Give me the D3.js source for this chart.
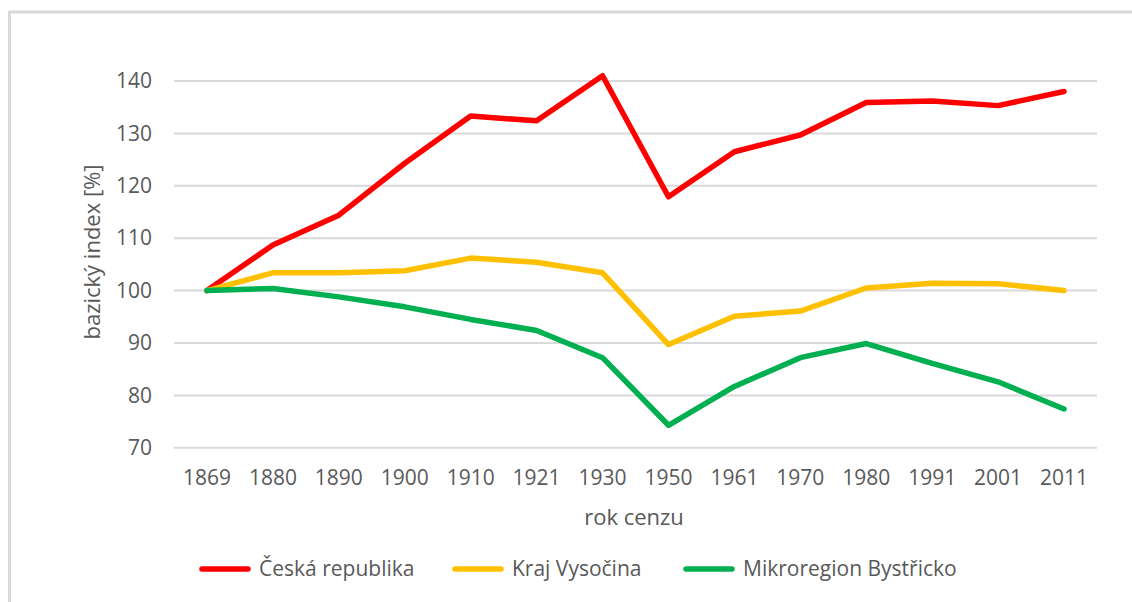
<!DOCTYPE html>
<html><head><meta charset="utf-8">
<script src="https://cdn.jsdelivr.net/npm/d3@7"></script>
<style>body{margin:0;background:#fff;} svg{display:block;} text{font-family:"Open Sans",sans-serif;fill:#595959;}</style>
</head><body>
<svg id="c" width="1132" height="602"></svg>
<script>
const years = ["1869","1880","1890","1900","1910","1921","1930","1950","1961","1970","1980","1991","2001","2011"];
const ceskaRepublika = [100,108.7,114.4,124.3,133.3,132.4,141,117.9,126.5,129.7,135.9,136.2,135.3,138.0];
const krajVysocina = [100,103.4,103.4,103.8,106.2,105.4,103.4,89.7,95.1,96.1,100.5,101.4,101.3,100.0];
const mikroregionBystricko = [100,100.4,98.8,96.9,94.5,92.4,87.2,74.3,81.7,87.2,89.9,86.1,82.6,77.4];
const yTicks = [70,80,90,100,110,120,130,140];
const seriesNames = ["Česká republika","Kraj Vysočina","Mikroregion Bystřicko"];
const seriesColors = ["#ff0000","#ffc000","#00b050"];
const yTitle = "bazický index [%]";
const xTitle = "rok cenzu";

(function(){
const series = [ceskaRepublika, krajVysocina, mikroregionBystricko];
const svg = d3.select("#c");
// frame
svg.append("rect").attr("x",9.5).attr("y",12).attr("width",1200).attr("height",700)
  .attr("fill","none").attr("stroke","#d9d9d9").attr("stroke-width",3);

const pLeft=174, pRight=1097, pTop=81, pBottom=447.8;
const x = d3.scaleBand().domain(years).range([pLeft,pRight]);
const y = d3.scaleLinear().domain([70,140]).range([pBottom,pTop]);

// gridlines
svg.append("g").selectAll("line").data(yTicks).join("line")
  .attr("x1",pLeft).attr("x2",pRight).attr("y1",d=>y(d)).attr("y2",d=>y(d))
  .attr("stroke","#d9d9d9").attr("stroke-width",2);

// y axis
const yAxis = svg.append("g").attr("transform",`translate(${pLeft},0)`)
  .call(d3.axisLeft(y).tickValues(yTicks).tickSize(0).tickPadding(22));
yAxis.select(".domain").remove();
yAxis.selectAll("text").style("font-size","21px").style("font-family","'Open Sans',sans-serif").attr("fill","#595959");

// x axis
const xAxis = svg.append("g").attr("transform",`translate(0,${pBottom})`)
  .call(d3.axisBottom(x).tickSize(0).tickPadding(22));
xAxis.select(".domain").remove();
xAxis.selectAll("text").style("font-size","21px").style("font-family","'Open Sans',sans-serif").attr("fill","#595959");

// titles
svg.append("text").attr("transform",`translate(100,252) rotate(-90)`).attr("text-anchor","middle")
  .style("font-size","22px").text(yTitle);
svg.append("text").attr("x",634).attr("y",525).attr("text-anchor","middle")
  .style("font-size","22px").text(xTitle);

// lines
const line = d3.line().x((d,i)=>x(years[i])+x.bandwidth()/2).y(d=>y(d));
series.forEach((s,k)=>{
  svg.append("path").datum(s).attr("d",line).attr("fill","none")
    .attr("stroke",seriesColors[k]).attr("stroke-width",5.5)
    .attr("stroke-linejoin","round").attr("stroke-linecap","round");
});

// legend
const legX = [202, 455, 686];
const legY = 569;
seriesNames.forEach((n,k)=>{
  svg.append("line").attr("x1",legX[k]).attr("x2",legX[k]+46).attr("y1",legY).attr("y2",legY)
    .attr("stroke",seriesColors[k]).attr("stroke-width",5.5).attr("stroke-linecap","round");
  svg.append("text").attr("x",legX[k]+57).attr("y",legY).attr("dy","0.35em")
    .style("font-size","21px").text(n);
});
})();
</script>
</body></html>
